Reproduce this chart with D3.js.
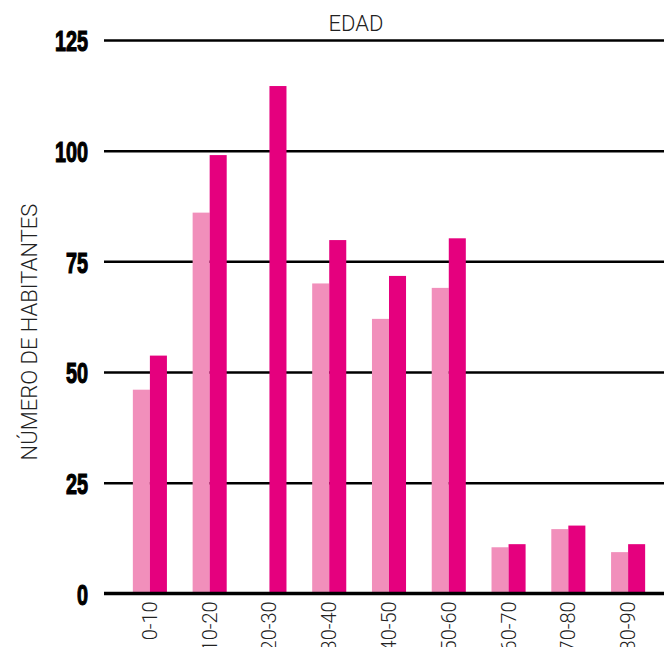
<!DOCTYPE html>
<html>
<head>
<meta charset="utf-8">
<script src="https://cdn.jsdelivr.net/npm/d3@7"></script>
<style>
  body { margin: 0; background: #fff; }
  svg { display: block; }
</style>
</head>
<body>
<svg id="chart" width="664" height="647"></svg>
<script>
const categories = ["0-10", "10-20", "20-30", "30-40", "40-50", "50-60", "60-70", "70-80", "80-90"];
const seriesLight = [46, 86, 0, 70, 62, 69, 10.4, 14.5, 9.3];
const seriesDark = [53.7, 99, 114.6, 79.8, 71.7, 80.2, 11.1, 15.3, 11.1];
const yTicks = [0, 25, 50, 75, 100, 125];

const width = 664;
const height = 647;
const margin = { top: 40, right: 0, bottom: 54, left: 104 };

const svg = d3.select("#chart");

const xScale = d3
  .scaleBand()
  .domain(categories)
  .range([120, 658])
  .paddingInner(0.43)
  .paddingOuter(0.215);

const yScale = d3
  .scaleLinear()
  .domain([0, 125])
  .range([height - margin.bottom + 0.3, margin.top]);

const sub = d3.scaleBand().domain(["a", "b"]).range([0, xScale.bandwidth()]);

// grid lines + y labels
const yAxis = d3
  .axisLeft(yScale)
  .tickValues(yTicks)
  .tickSize(-(width - margin.left))
  .tickFormat(d3.format("d"));

const gy = svg
  .append("g")
  .attr("transform", `translate(${margin.left},0)`)
  .call(yAxis);

gy.select(".domain").remove();
gy.selectAll(".tick line")
  .attr("stroke", "#000")
  .attr("stroke-width", (d) => (d === 0 ? 3 : 2.5));
// condensed heavy numbers
gy.selectAll(".tick text")
  .attr("x", 0)
  .attr("transform", "translate(-16,0) scale(0.66,1)")
  .attr("fill", "#000")
  .attr("stroke", "#000")
  .attr("stroke-width", 1.2)
  .style("font-family", "'Liberation Sans', sans-serif")
  .style("font-weight", "bold")
  .style("font-size", "30px")
  .attr("dy", "0.36em");

// bars
const groups = svg
  .selectAll(".group")
  .data(categories)
  .enter()
  .append("g")
  .attr("class", "group")
  .attr("transform", (d) => `translate(${xScale(d)},0)`);

groups
  .append("rect")
  .attr("x", sub("a"))
  .attr("width", sub.bandwidth())
  .attr("y", (d, i) => yScale(seriesLight[i]))
  .attr("height", (d, i) => yScale(0) - yScale(seriesLight[i]))
  .attr("fill", "#f18fbb");

groups
  .append("rect")
  .attr("x", sub("b"))
  .attr("width", sub.bandwidth())
  .attr("y", (d, i) => yScale(seriesDark[i]))
  .attr("height", (d, i) => yScale(0) - yScale(seriesDark[i]))
  .attr("fill", "#e5007e");

// zero line on top of bars
svg
  .append("line")
  .attr("x1", margin.left)
  .attr("x2", width)
  .attr("y1", yScale(0))
  .attr("y2", yScale(0))
  .attr("stroke", "#000")
  .attr("stroke-width", 3);

// x labels
svg
  .selectAll(".xlabel")
  .data(categories)
  .enter()
  .append("text")
  .attr("class", "xlabel")
  .attr(
    "transform",
    (d) => `translate(${xScale(d) + xScale.bandwidth() / 2 + 7},${yScale(0) + 8}) rotate(-90)`
  )
  .attr("text-anchor", "end")
  .style("font-family", "Roboto, sans-serif")
  .style("font-weight", 300)
  .style("font-size", "20px")
  .attr("fill", "#222")
  .text((d) => d);

// titles
svg
  .append("text")
  .attr("x", 356)
  .attr("y", 31)
  .attr("text-anchor", "middle")
  .style("font-family", "Roboto, sans-serif")
  .style("font-weight", 300)
  .style("font-size", "22px")
  .attr("fill", "#222")
  .text("EDAD");

svg
  .append("text")
  .attr("transform", "translate(37,332) rotate(-90)")
  .attr("text-anchor", "middle")
  .style("font-family", "Roboto, sans-serif")
  .style("font-weight", 300)
  .style("font-size", "22px")
  .attr("fill", "#222")
  .text("NÚMERO DE HABITANTES");
</script>
</body>
</html>
